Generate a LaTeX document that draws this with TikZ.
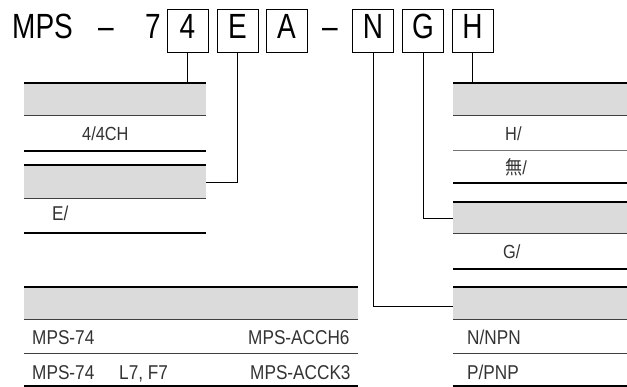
\documentclass[tikz,border=0pt]{standalone}
\usepackage{fontspec}
\setmainfont{Liberation Sans}[FakeStretch=0.86]
\newfontfamily\bigfont{Liberation Sans}[FakeStretch=0.8]
\newfontfamily\cjk{Noto Sans CJK JP}[FakeStretch=0.9]
\usepackage{tikz}
\usetikzlibrary{positioning}

\begin{document}
\begin{tikzpicture}[x=1pt,y=-1pt,
  codebox/.style={draw,line width=0.8pt,minimum width=41pt,minimum height=43pt,
    inner sep=0pt,text height=25pt,text depth=8pt,font=\bigfont\fontsize{35}{35}\selectfont},
  bigtxt/.style={anchor=base west,inner sep=0pt,font=\bigfont\fontsize{35}{35}\selectfont},
  celltxt/.style={anchor=base west,inner sep=0pt,text=black!80,font=\fontsize{19}{19}\selectfont},
  rowtxt/.style={celltxt,font=\fontsize{20}{20}\selectfont},
  band/.style={fill=black!14},
  heavy/.style={line width=2.2pt},
  light/.style={line width=1pt,black!75},
  wire/.style={line width=0.8pt}]

 \useasboundingbox (0,0) rectangle (627,387);

 % model code on top
 \node[bigtxt] (mps) at (12,39) {MPS};
 \node[bigtxt] (dashA) at (98,39) {–};
 \node[bigtxt] (seven) at (145,39) {7};
 \node[codebox] (b4) at (187.5,30.5) {4};
 \node[codebox] (bE) at (237.5,30.5) {E};
 \node[codebox] (bA) at (286.5,30.5) {A};
 \node[bigtxt] (dashB) at (322,39) {–};
 \node[codebox] (bN) at (373,30.5) {N};
 \node[codebox] (bG) at (423,30.5) {G};
 \node[codebox] (bH) at (472.5,30.5) {H};

 % left table: channels
 \fill[band] (24,83) rectangle (206,116);
 \draw[heavy] (24,83) -- (206,83);
 \draw[light] (24,116) -- (206,116);
 \node[celltxt] (ch) at (82,141) {4/4CH};
 \draw[heavy] (24,151) -- (206,151);

 % left table: E
 \fill[band] (24,165) rectangle (206,199);
 \draw[heavy] (24,165) -- (206,165);
 \draw[light] (24,199) -- (206,199);
 \node[rowtxt] (eopt) at (52,221) {E/};
 \draw[heavy] (24,233) -- (206,233);

 % bottom table: cables
 \fill[band] (24,287) rectangle (358,320);
 \draw[heavy] (24,287) -- (358,287);
 \draw[light] (24,320) -- (358,320);
 \node[rowtxt] (mpsA) at (32,345) {MPS-74};
 \node[rowtxt] (cabA) at (248,345) {MPS-ACCH6};
 \draw[light] (24,354) -- (358,354);
 \node[rowtxt] (mpsB) at (32,380) {MPS-74};
 \node[rowtxt] (lf) at (119,380) {L7, F7};
 \node[rowtxt] (cabB) at (250,380) {MPS-ACCK3};
 \draw[heavy] (24,386) -- (358,386);

 % right table: H
 \fill[band] (453,83) rectangle (627,116);
 \draw[heavy] (453,83) -- (627,83);
 \draw[light] (453,116) -- (627,116);
 \node[celltxt] (hopt) at (505,141) {H/};
 \draw[light,black!55] (453,151) -- (627,151);
 \node[celltxt] (nopt) at (505,175) {{\cjk 無}/};
 \draw[heavy] (453,183) -- (627,183);

 % right table: G
 \fill[band] (453,202) rectangle (627,234);
 \draw[heavy] (453,202) -- (627,202);
 \draw[light] (453,234) -- (627,234);
 \node[celltxt] (gopt) at (503,259) {G/};
 \draw[heavy] (453,269) -- (627,269);

 % right table: N/P
 \fill[band] (453,287) rectangle (627,320);
 \draw[heavy] (453,287) -- (627,287);
 \draw[light] (453,320) -- (627,320);
 \node[rowtxt] (npn) at (467,345) {N/NPN};
 \draw[light] (453,354) -- (627,354);
 \node[rowtxt] (pnp) at (467,380) {P/PNP};
 \draw[heavy] (453,386) -- (627,386);

 % leaders from the code letters
 \coordinate (topA) at (206,83);
 \coordinate (endE) at (206,182);
 \coordinate (topH) at (453,83);
 \coordinate (endG) at (453,218);
 \coordinate (endN) at (453,306);
 \draw[wire] (b4.south) -- (b4.south |- topA);
 \draw[wire] (bE.south) |- (endE);
 \draw[wire] (bH.south) -- (bH.south |- topH);
 \draw[wire] (bG.south) |- (endG);
 \draw[wire] (bN.south) |- (endN);

\end{tikzpicture}
\end{document}
